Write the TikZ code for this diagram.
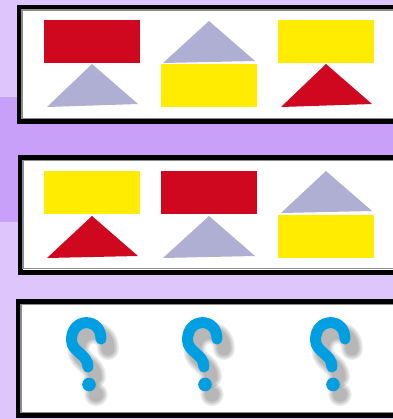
\documentclass[tikz,border=0pt]{standalone}
\definecolor{bglight}{HTML}{DEC5FB}
\definecolor{bgdark}{HTML}{C9A0F9}
\definecolor{shred}{HTML}{CF0820}
\definecolor{shgray}{HTML}{AEAFD3}
\definecolor{shyellow}{HTML}{FFEC00}
\definecolor{qblue}{HTML}{009FE2}
\definecolor{rimgray}{HTML}{8C8C8C}
\begin{document}
\begin{tikzpicture}[x=0.75pt,y=-0.75pt,
  panel/.style={fill=white,draw=black,line width=3.4pt},
  rim/.style={draw=rimgray,line width=0.8pt},
  qstroke/.style={line width=8.25pt,line cap=round},
  qpath/.pic={
    \foreach \w in {22,19,16,13}{
      \draw[line width=\w*0.75pt,line cap=round,black,opacity=0.08,shift={(7,10)}]
        (101,339) .. controls (101,317) and (71.5,317) .. (71.5,340)
        .. controls (71.5,352) and (88,354) .. (88,367);
      \fill[black,opacity=0.08,shift={(7,10)}] (89,384.5) circle[radius=\w*0.5*0.75pt+0.5pt];
    }
    \draw[qstroke,qblue]
      (101,339) .. controls (101,317) and (71.5,317) .. (71.5,340)
      .. controls (71.5,352) and (88,354) .. (88,367);
    \fill[qblue] (89,384.5) circle[radius=5.1pt];
  }]
\useasboundingbox (0,0) rectangle (393,419);
\clip (0,0) rectangle (393,419);
\fill[bglight] (0,0) rectangle (393,419);
\fill[bgdark] (0,97) rectangle (393,222);
% panels
\draw[panel] (19.25,7.25) rectangle (420,121.75);
\draw[rim] (22,10) rectangle (420,118.5);
\draw[panel] (20.25,157.25) rectangle (420,272.75);
\draw[rim] (23,160.5) rectangle (420,268.5);
\draw[panel] (18.25,301.25) rectangle (420,415.75);
\draw[rim] (21,304.5) rectangle (420,412.5);
% row 1
\fill[shred] (44,20) rectangle (140,63);
\fill[shgray] (92,64) -- (138,104) -- (47,107) -- cycle;
\fill[shgray] (209,21) -- (255,61) -- (163,63) -- cycle;
\fill[shyellow] (161,64) rectangle (257,107);
\fill[shyellow] (278,20) rectangle (374,63);
\fill[shred] (326,64) -- (372,104) -- (281,107) -- cycle;
% row 2
\fill[shyellow] (44,171) rectangle (140,214);
\fill[shred] (92,216) -- (138,256) -- (47,258) -- cycle;
\fill[shred] (161,171) rectangle (257,214);
\fill[shgray] (209,216) -- (255,256) -- (163,258) -- cycle;
\fill[shgray] (326,171) -- (372,211) -- (281,213) -- cycle;
\fill[shyellow] (278,215) rectangle (374,258);
% row 3: question marks
\pic at (0,0) {qpath};
\pic at (116,0) {qpath};
\pic at (244,0) {qpath};
\end{tikzpicture}
\end{document}
